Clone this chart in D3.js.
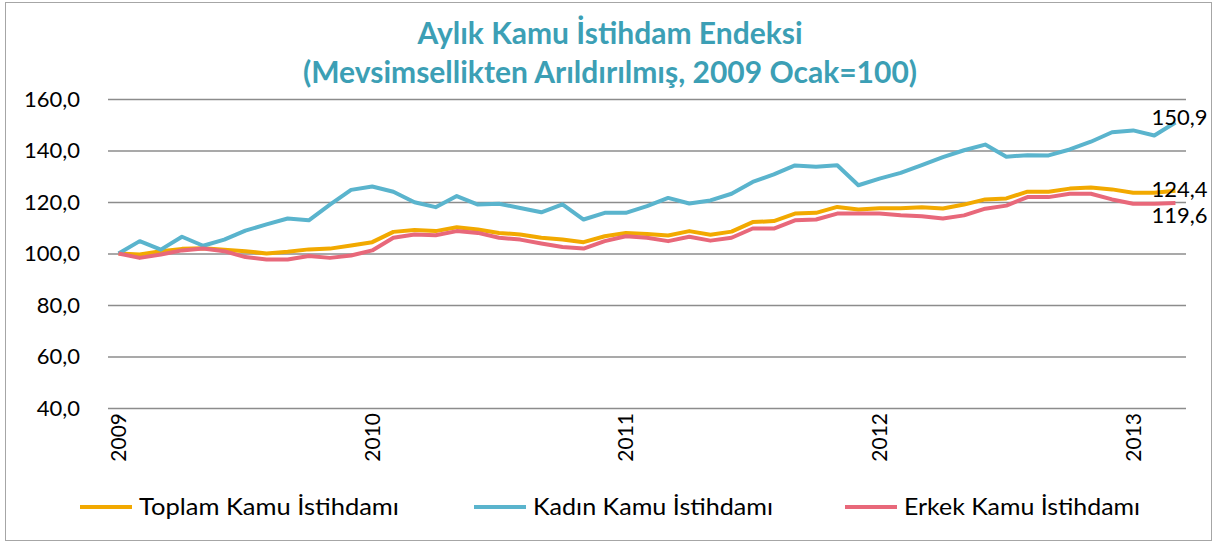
<!DOCTYPE html>
<html>
<head>
<meta charset="utf-8">
<script src="https://cdn.jsdelivr.net/npm/d3@7"></script>
<style>
    body { margin: 0; background: #fff; }
    svg { display: block; }
</style>
</head>
<body>
<svg id="chart" width="1216" height="547"></svg>
<script>
// monthly, Jan 2009 .. Mar 2013
const months = d3.range(51).map(i => `${2009 + Math.floor(i / 12)}-${String(i % 12 + 1).padStart(2, '0')}`);
const yearLabels = ["2009", "2010", "2011", "2012", "2013"];
const yTicks = [40, 60, 80, 100, 120, 140, 160];

const toplam = [100, 99.6, 100.9, 101.8, 102, 101.5, 100.9, 100, 100.7, 101.6,
    101.9, 103.1, 104.4, 108.4, 109.1, 108.7, 110.2, 109.3, 108, 107.4,
    106.1, 105.4, 104.4, 106.7, 108, 107.6, 107, 108.7, 107.3, 108.5,
    112.2, 112.6, 115.5, 115.8, 118.1, 117.1, 117.6, 117.6, 118, 117.5,
    119, 121, 121.4, 124, 124, 125.2, 125.6, 124.9, 123.6, 123.6, 124.4];
const kadin = [100, 104.8, 101.5, 106.5, 103, 105.4, 108.9, 111.3, 113.6, 112.9,
    119, 124.7, 126, 124, 119.9, 118, 122.3, 119, 119.3, 117.7,
    116, 119.1, 113.2, 115.8, 115.8, 118.4, 121.6, 119.4, 120.6, 123.2,
    127.8, 130.7, 134.2, 133.7, 134.3, 126.5, 129.1, 131.3, 134.3, 137.4,
    140.1, 142.3, 137.6, 138.2, 138.1, 140.4, 143.4, 147.1, 147.8, 145.8, 150.9];
const erkek = [100, 98.3, 99.6, 101.2, 101.9, 100.9, 98.6, 97.7, 97.7, 99,
    98.3, 99.2, 101.2, 106.1, 107.4, 107.1, 108.7, 108, 106.1, 105.4,
    103.9, 102.5, 101.9, 104.8, 106.7, 106.1, 104.8, 106.5, 105, 106.1,
    109.7, 109.7, 112.9, 113.2, 115.5, 115.5, 115.5, 114.9, 114.5, 113.6,
    114.8, 117.4, 118.6, 121.9, 121.9, 123.2, 123.2, 121, 119.3, 119.3, 119.6];

const seriesList = [
    { name: "Toplam Kamu İstihdamı", values: toplam, color: "#f2a900" },
    { name: "Kadın Kamu İstihdamı", values: kadin, color: "#5ab4cd" },
    { name: "Erkek Kamu İstihdamı", values: erkek, color: "#e8687a" }
];

const margin = { top: 99, right: 30, bottom: 139, left: 108 };
const width = 1216, height = 547;

const svg = d3.select("#chart");

// outer frame
svg.append("rect")
    .attr("x", 5.5).attr("y", 2.5)
    .attr("width", 1206).attr("height", 538)
    .attr("fill", "none")
    .attr("stroke", "#a6a6a6")
    .attr("stroke-width", 1);

const x = d3.scaleBand()
    .domain(months)
    .range([margin.left, width - margin.right]);

const y = d3.scaleLinear()
    .domain([40, 160])
    .range([height - margin.bottom, margin.top]);

const font = "Lato, 'Open Sans', sans-serif";

// title
const title = svg.append("text")
    .attr("text-anchor", "middle")
    .attr("fill", "#3c9fb5")
    .style("font-family", font)
    .style("font-weight", "bold")
    .style("font-size", "30px");
title.append("tspan").attr("x", 610).attr("y", 44).text("Aylık Kamu İstihdam Endeksi");
title.append("tspan").attr("x", 610).attr("y", 83).text("(Mevsimsellikten Arıldırılmış, 2009 Ocak=100)");

// gridlines + y labels
const yAxis = svg.append("g")
    .attr("transform", `translate(${margin.left},0)`)
    .call(d3.axisLeft(y)
        .tickValues(yTicks)
        .tickSize(-(width - margin.left - margin.right))
        .tickPadding(28)
        .tickFormat(d => d3.format(".1f")(d).replace(".", ",")));
yAxis.select(".domain").remove();
yAxis.selectAll(".tick line")
    .attr("stroke", "#8c8c8c")
    .attr("stroke-width", 1.5);
yAxis.selectAll(".tick text")
    .attr("fill", "#000")
    .style("font-family", font)
    .style("font-size", "22px");

// year labels, rotated
const xAxis = svg.append("g")
    .attr("transform", `translate(0,${height - margin.bottom})`)
    .call(d3.axisBottom(x)
        .tickValues(months.filter((m, i) => i % 12 === 0))
        .tickSize(0)
        .tickFormat(m => yearLabels[+m.slice(0, 4) - 2009]));
xAxis.select(".domain").remove();
xAxis.selectAll(".tick text")
    .attr("fill", "#000")
    .style("font-family", font)
    .style("font-size", "21px")
    .attr("text-anchor", "end")
    .attr("transform", "rotate(-90)")
    .attr("x", -5)
    .attr("y", 0)
    .attr("dy", "0.35em");

const line = d3.line()
    .x((d, i) => x(months[i]) + x.bandwidth() / 2)
    .y(d => y(d));

svg.append("g")
    .selectAll("path")
    .data(seriesList)
    .join("path")
    .attr("d", s => line(s.values))
    .attr("fill", "none")
    .attr("stroke", s => s.color)
    .attr("stroke-width", 4)
    .attr("stroke-linejoin", "round");

// end value labels
const lastX = x(months[months.length - 1]) + x.bandwidth() / 2;
const endLabels = [
    { v: kadin[kadin.length - 1], dy: 3 },
    { v: toplam[toplam.length - 1], dy: 6 },
    { v: erkek[erkek.length - 1], dy: 20 }
];
svg.append("g")
    .selectAll("text")
    .data(endLabels)
    .join("text")
    .attr("x", lastX + 32)
    .attr("y", d => y(d.v) + d.dy)
    .attr("text-anchor", "end")
    .attr("fill", "#000")
    .style("font-family", font)
    .style("font-size", "22px")
    .text(d => d3.format(".1f")(d.v).replace(".", ","));

// legend
const legendX = [80, 474, 845];
const legendTextW = [260, 240, 236];
const legend = svg.append("g")
    .selectAll("g")
    .data(seriesList)
    .join("g")
    .attr("transform", (s, i) => `translate(${legendX[i]},507)`);
legend.append("line")
    .attr("x1", 0).attr("x2", 52)
    .attr("stroke", s => s.color)
    .attr("stroke-width", 4);
legend.append("text")
    .attr("x", 59)
    .attr("dy", "0.35em")
    .attr("fill", "#000")
    .attr("textLength", (s, i) => legendTextW[i])
    .attr("lengthAdjust", "spacingAndGlyphs")
    .style("font-family", font)
    .style("font-size", "23px")
    .text(s => s.name);
</script>
</body>
</html>
